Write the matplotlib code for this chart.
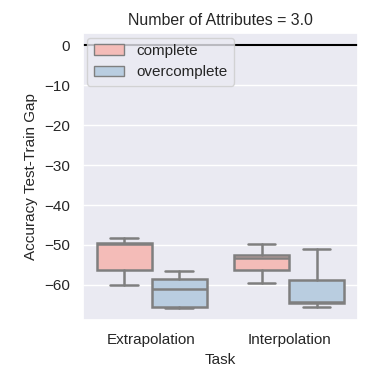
import matplotlib
matplotlib.use("Agg")
import matplotlib.pyplot as plt
import seaborn as sns
from matplotlib.patches import Patch

sns.set_theme(style="darkgrid")
plt.rcParams['font.family'] = ['Liberation Sans', 'DejaVu Sans']
plt.rcParams['text.color'] = '.15'
fs = 11

tasks = ["Extrapolation", "Interpolation"]
hues = ["complete", "overcomplete"]
colors = ["#f4bcb8", "#b9cde0"]
# stats per (task, hue): whislo, q1, med, q3, whishi
whislo = [[-60.0, -65.8], [-59.6, -65.4]]
q1 = [[-56.3, -65.6], [-56.3, -64.6]]
med = [[-49.8, -61.1], [-53.3, -64.2]]
q3 = [[-49.4, -58.4], [-52.5, -58.8]]
whishi = [[-48.3, -56.5], [-49.8, -51.1]]

fig, ax = plt.subplots(figsize=(3.8, 3.8), dpi=100)
gray = "#7f7f7f"
for j, h in enumerate(hues):
    stats = []
    for i in range(len(tasks)):
        stats.append(dict(whislo=whislo[i][j], q1=q1[i][j], med=med[i][j],
                          q3=q3[i][j], whishi=whishi[i][j], fliers=[]))
    pos = [i + (-0.2 if j == 0 else 0.2) for i in range(len(tasks))]
    ax.bxp(stats, positions=pos, widths=0.4, patch_artist=True, showfliers=False,
           boxprops=dict(facecolor=colors[j], edgecolor=gray, linewidth=1.8),
           medianprops=dict(color=gray, linewidth=1.8),
           whiskerprops=dict(color=gray, linewidth=1.8),
           capprops=dict(color=gray, linewidth=1.8), manage_ticks=False)

ax.axhline(0, color="black", linewidth=1.5)
ax.set_xlim(-0.5, 1.5)
ax.set_ylim(-68.75, 3)
ax.set_xticks(range(len(tasks)))
ax.set_xticklabels(tasks)
ax.set_yticks([0, -10, -20, -30, -40, -50, -60])
ax.tick_params(labelsize=fs)
ax.grid(False, axis="x")
ax.set_xlabel("Task", fontsize=fs)
ax.set_ylabel("Accuracy Test-Train Gap", fontsize=fs)
ax.set_title("Number of Attributes = 3.0", fontsize=11.4)
handles = [Patch(facecolor=colors[j], edgecolor=gray, label=h) for j, h in enumerate(hues)]
ax.legend(handles=handles, loc="upper left", borderaxespad=0.3, fontsize=fs)
fig.subplots_adjust(left=0.218, right=0.942, top=0.913, bottom=0.158)
fig.savefig("out.png", dpi=100)
